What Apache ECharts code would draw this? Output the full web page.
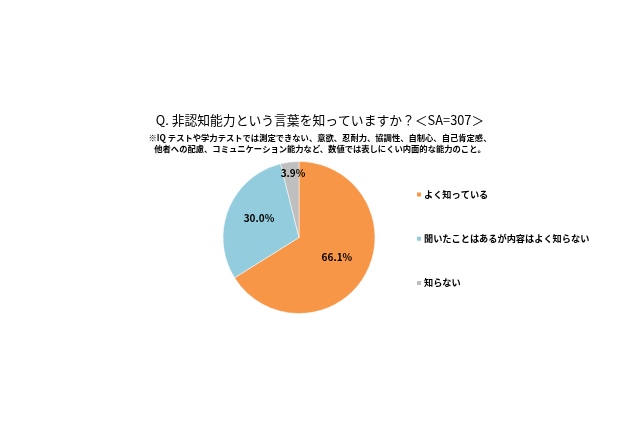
<!DOCTYPE html>
<html><head><meta charset="utf-8">
<script src="https://cdn.jsdelivr.net/npm/echarts@6/dist/echarts.min.js"></script>
<style>html,body{margin:0;padding:0;background:#fff}#c{width:640px;height:426px}</style>
</head><body><div id="c"></div>
<script>
const categories = ['よく知っている', '聞いたことはあるが内容はよく知らない', '知らない'];
const values = [66.1, 30.0, 3.9];
const colors = ['#F79646', '#93CDDD', '#BFBFBF'];
const titleText = 'Q. 非認知能力という言葉を知っていますか？＜SA=307＞';
const noteLines = ['※IQ テストや学力テストでは測定できない、意欲、忍耐力、協調性、自制心、自己肯定感、',
  '他者への配慮、コミュニケーション能力など、数値では表しにくい内面的な能力のこと。'];

const font = '"Noto Sans CJK JP", sans-serif';
const chart = echarts.init(document.getElementById('c'));
const labelShift = [[2, 0], [-2, -4], [-1, -24]];
chart.setOption({
  backgroundColor: '#fff',
  title: [
    { text: titleText, left: 'center', top: 109, textStyle: { fontFamily: font, fontSize: 12.8, fontWeight: 'normal', color: '#000' } },
    { text: noteLines.join('\n'), left: 'center', top: 127,
      textStyle: { fontFamily: font, fontSize: 8.3, fontWeight: 'bold', color: '#000', lineHeight: 11, align: 'center' } }
  ],
  legend: {
    orient: 'vertical', left: 410, top: 185, itemGap: 35, itemWidth: 6, itemHeight: 6, icon: 'rect',
    textStyle: { fontFamily: font, fontSize: 9.2, fontWeight: 'bold', color: '#000', padding: [0, 0, 0, -3] },
    data: categories
  },
  series: [{
    type: 'pie', center: [299, 237.5], radius: 76, startAngle: 90, clockwise: true,
    itemStyle: { borderColor: '#fff', borderWidth: 0.5 },
    label: { position: 'inside', formatter: p => p.value.toFixed(1) + '%', fontFamily: font, fontSize: 10, fontWeight: 'bold', color: '#000' },
    labelLayout: p => ({ dx: labelShift[p.dataIndex][0], dy: labelShift[p.dataIndex][1] }),
    emphasis: { disabled: true },
    animation: false,
    data: categories.map((c, i) => ({ name: c, value: values[i], itemStyle: { color: colors[i] } }))
  }]
});
</script></body></html>
